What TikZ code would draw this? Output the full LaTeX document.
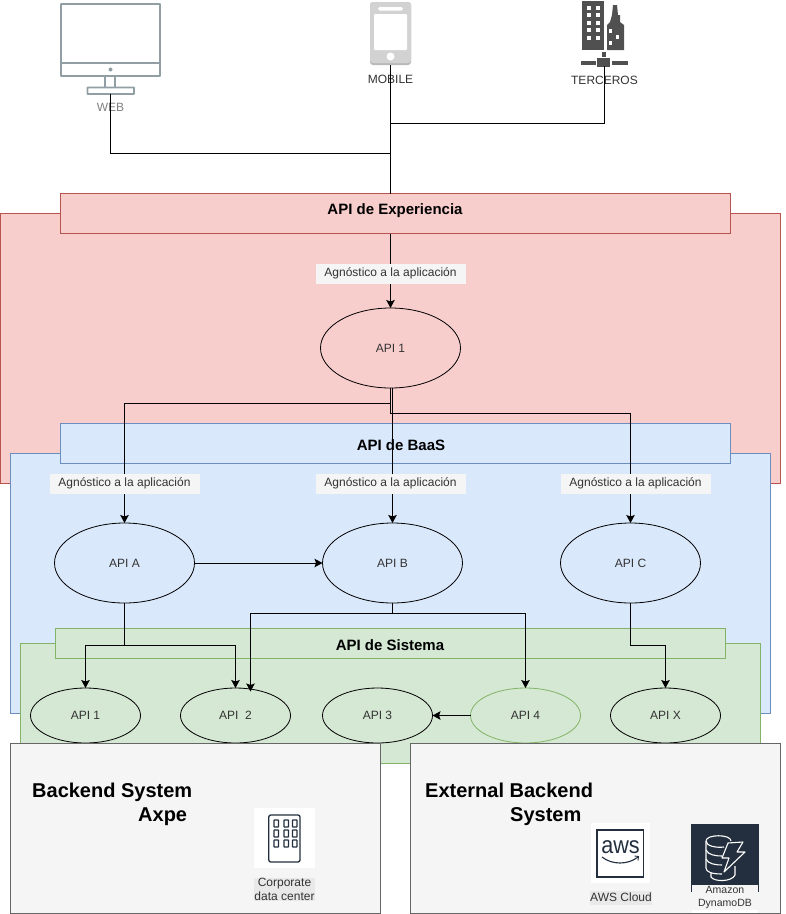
\documentclass[tikz,border=0pt]{standalone}
\usepackage{fontspec}
\setmainfont{Liberation Sans}
\usetikzlibrary{shapes.geometric,arrows.meta,calc}
\definecolor{redF}{HTML}{F8CECC}\definecolor{redS}{HTML}{B85450}
\definecolor{bluF}{HTML}{DAE8FC}\definecolor{bluS}{HTML}{6C8EBF}
\definecolor{grnF}{HTML}{D5E8D4}\definecolor{grnS}{HTML}{82B366}
\definecolor{gryF}{HTML}{F5F5F5}\definecolor{gryS}{HTML}{666666}
\definecolor{awsD}{HTML}{232F3E}\definecolor{txtD}{HTML}{333333}
\definecolor{monS}{HTML}{919FA5}\definecolor{bldg}{HTML}{505050}
\tikzset{
 x=1pt,y=-1pt,
 panel/.style={draw=#1S,fill=#1F,line width=.8pt,rectangle},
 apinode/.style={draw=black,ellipse,line width=.8pt,inner sep=0pt,outer sep=0pt,minimum width=#1,text=txtD,font=\fontsize{12}{14}\selectfont},
 bignode/.style={apinode=140pt,minimum height=80pt},
 smallnode/.style={apinode=110pt,minimum height=55pt},
 head/.style={font=\bfseries\fontsize{15}{17}\selectfont,text=black,inner sep=0pt},
 tag/.style={fill=gryF,text=txtD,font=\fontsize{12}{14}\selectfont,minimum width=150pt,minimum height=20pt,inner sep=0pt},
 devlabel/.style={font=\fontsize{12}{14}\selectfont,inner sep=0pt},
 conn/.style={draw=black,line width=1pt},
 arr/.style={conn,-{Stealth[length=8pt,width=8.5pt,inset=1.5pt]}},
 backt/.style={font=\bfseries\fontsize{20}{24}\selectfont,align=left,inner sep=0pt,anchor=north west},
 awslabel/.style={fill=#1,text=txtD,font=\fontsize{12}{14.5}\selectfont,align=center,inner sep=0pt,minimum width=61pt},
}
\begin{document}
\begin{tikzpicture}
\useasboundingbox (0,0) rectangle (786,914);
\fill[white] (0,0) rectangle (786,914);
% panels
\draw[panel=red] (0.5,213.5) rectangle (780.5,483.5);
\draw[panel=red] (60.5,193.5) rectangle (730.5,233.5);
\node[head] (hE) at (395,211) {API de Experiencia};
\coordinate (hEtop) at (390.5,193.5);
\coordinate (hEbot) at (390.5,233.5);
\draw[panel=blu] (10.5,453.5) rectangle (770.5,713.5);
\draw[panel=blu] (60.5,423.5) rectangle (730.5,463.5);
\node[head] (hB) at (401,445) {API de BaaS};
\draw[panel=grn] (20.5,643.5) rectangle (760.5,763.5);
\draw[panel=grn] (55.5,628.5) rectangle (725.5,658.5);
\node[head] (hS) at (390,645) {API de Sistema};
% API nodes
\node[bignode] (a1) at (390.5,348) {API 1};
\node[bignode] (aA) at (124.5,563) {API A};
\node[bignode] (aB) at (392.5,563) {API B};
\node[bignode] (aC) at (630.5,563) {API C};
\node[smallnode] (s1) at (85.5,715.5) {API 1};
\node[smallnode] (s2) at (235.5,715.5) {API\ \ 2};
\node[smallnode] (s3) at (377.5,715.5) {API 3};
\node[smallnode,draw=grnS] (s4) at (525.5,715.5) {API 4};
\node[smallnode] (sX) at (665.5,715.5) {API X};
% backend panels
\draw[draw=gryS,fill=gryF,line width=.8pt] (10.5,743.5) rectangle (380.5,913.5);
\draw[draw=gryS,fill=gryF,line width=.8pt] (410.5,743.5) rectangle (780.5,913.5);
\node[backt] (bk1) at (32,783) {Backend System\\[0pt]\hspace{106pt}Axpe};
\node[backt] (bk2) at (425,783) {External Backend\\[0pt]\hspace{85pt}System};
% corporate icon
\fill[white] (254,808) rectangle (315,868);
\draw[awsD,line width=1.3pt,rounded corners=2pt] (268.8,815) rectangle (300,862);
\foreach \cx in {274,284,292.5}\foreach \cy in {820,830,840}{
  \draw[awsD,line width=1.1pt,rounded corners=.5pt] (\cx,\cy) rectangle ++(4.5,7);}
\node[awslabel=gray!17] (corp) at (284.5,889.5) {Corporate\\data center};
% aws icon
\fill[white] (591,823) rectangle (650,883);
\draw[awsD,line width=1.4pt] (597,830) rectangle (643.5,877);
\node[font=\fontsize{24}{24}\selectfont,text=awsD,inner sep=0pt,xscale=.9] (awstxt) at (620.5,847) {aws};
\draw[awsD,line width=1.1pt] (602,857) .. controls (612,865) and (628,865) .. (638,857);
\draw[awsD,line width=.9pt] (634.5,856) -- (638.5,856.5) -- (638,860.5);
\node[awslabel=gray!17,minimum height=14pt] (awsl) at (621,897.5) {AWS Cloud};
% dynamo icon
\fill[awsD] (691,824) rectangle (759,892);
\begin{scope}[white,line width=1.1pt,line join=round]
 \draw (706,841) .. controls (706,834) and (731,834) .. (731,841);
 \draw (706,841) .. controls (706,846) and (716,848) .. (724,847);
 \draw (706,841) -- (706,868) .. controls (706,872) and (712,874) .. (722,874);
 \draw (706,850) .. controls (708,855) and (716,856) .. (722,856);
 \draw (706,859) .. controls (708,864) and (716,865) .. (722,865);
 \draw (711,873) -- (711,877) .. controls (714,882) and (732,882) .. (735,875) -- (735,866);
 \draw (728,843) -- (743,842) -- (737,852) -- (745,852) -- (724,872) -- (729,858) -- (722,858) -- cycle;
\end{scope}
\fill[white] (692,885) rectangle (758,913);
\fill[gryF] (692,885) rectangle (758,910);
\node[font=\fontsize{10.5}{13}\selectfont,text=txtD,align=center,inner sep=0pt] (dyn) at (725,897.5) {Amazon\\DynamoDB};
% device icons
\begin{scope}[monS,line width=1.8pt]
 \draw[rounded corners=.5pt] (61,4) rectangle (160,76);
 \draw (61,63) -- (160,63);
 \fill (110.5,69.5) circle (2);
 \draw (105,76) -- (105,87) (115,76) -- (115,87);
 \draw[rounded corners=.5pt] (87.5,87.5) rectangle (134,94);
\end{scope}
\node[devlabel,text=gray] (web) at (110.5,107) {WEB};
\fill[gray!55,rounded corners=3pt] (370,2) rectangle (411,65);
\fill[gray!35,rounded corners=3pt] (370,2) rectangle (411,63);
\fill[white,rounded corners=1pt] (374,14) rectangle (407,50);
\fill[white,rounded corners=1.7pt] (378,7) rectangle (403,10.5);
\fill[white] (390.5,56.5) circle (4);
\node[devlabel,text=txtD] (mob) at (390.5,79) {MOBILE};
\fill[bldg] (582,1) rectangle (604,50);
\fill[bldg] (607,50) -- (607,25) -- (610,22) -- (612,15) -- (613,5) -- (617,5) -- (618,15) -- (620,15) -- (620,22) -- (624,25) -- (624,50) -- cycle;
\foreach \wy in {6,13,21,28,36}\foreach \wx in {587,596}{
  \fill[white] (\wx,\wy) rectangle ++(3.7,3.5);}
\fill[white] (608.5,29) rectangle ++(3.7,3.5);
\fill[white] (615.5,35) rectangle ++(3.7,3.5);
\fill[white] (608.5,41) rectangle ++(3.7,3.5);
\fill[bldg] (602,52) rectangle (606,57);
\fill[bldg] (597,58) rectangle (610,67);
\fill[bldg] (581,61) rectangle (596,65);
\fill[bldg] (612,61) rectangle (628,65);
\node[devlabel,text=txtD] (ter) at (604.5,80) {TERCEROS};
\coordinate (webB) at (110.5,94);
\coordinate (mobB) at (390.5,65);
\coordinate (terB) at (604.5,66);
% connectors
\draw[conn] (webB) -- (110.5,153.5) -- (390.5,153.5);
\draw[conn] (mobB) -- (hEtop);
\draw[conn] (terB) -- (604.5,123.5) -- (390.5,123.5);
\draw[arr] (hEbot) -- (a1.north);
\draw[arr] (a1.south) -- (390.5,403.5) -| (aA.north);
\draw[arr] (a1.south) -- (390.5,413.5) -| (aC.north);
\coordinate (a1low) at (392.5,388);
\draw[arr] (a1low) -- (aB.north);
\draw[arr] (aA.east) -- (aB.west);
\draw[arr] (aA.south) -- (124.5,645.5) -| (s1.north);
\draw[arr] (aA.south) -- (124.5,645.5) -| (s2.north);
\coordinate (s2in) at ($(s2.center)+(15,-24)$);
\draw[arr] (aB.south) -- (392.5,613.5) -| (s2in);
\draw[arr] (aB.south) -- (392.5,613.5) -| (s4.north);
\draw[arr] (aC.south) -- (630.5,645.5) -| (sX.north);
\draw[arr] (s4.west) -- (s3.east);
% tags sit over the connectors
\node[tag] (t0) at (390.5,273.5) {Agnóstico a la aplicación};
\node[tag] (t1) at (124.5,483.5) {Agnóstico a la aplicación};
\node[tag] (t2) at (390.5,483.5) {Agnóstico a la aplicación};
\node[tag] (t3) at (635.5,483.5) {Agnóstico a la aplicación};
\end{tikzpicture}
\end{document}
